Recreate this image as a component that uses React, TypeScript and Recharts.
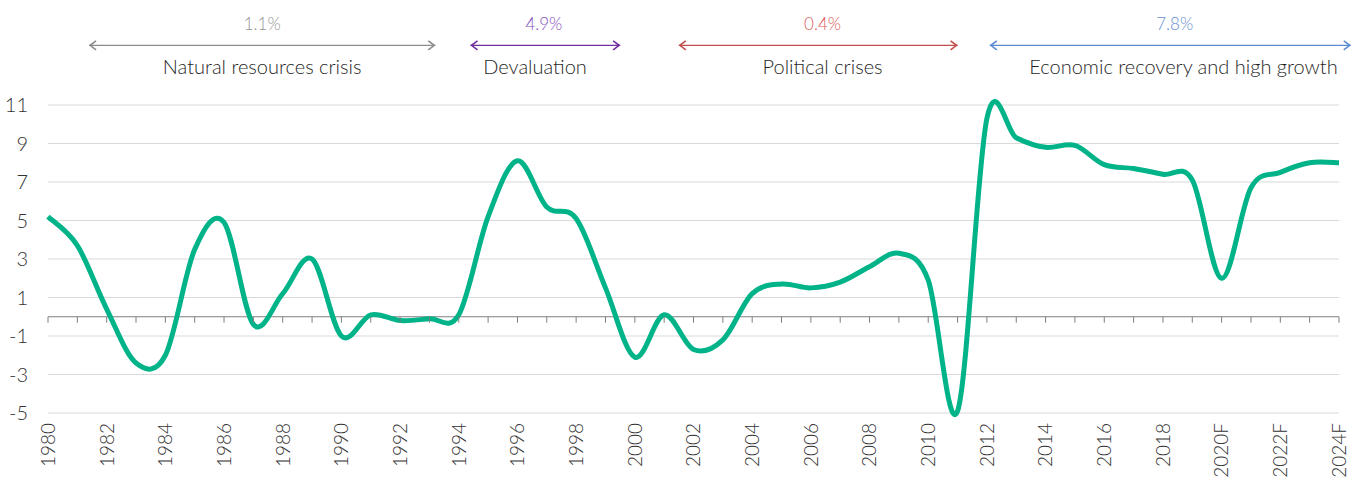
import { LineChart, Line, XAxis, YAxis, CartesianGrid, ReferenceLine, ReferenceDot } from "recharts";

const years = [
  1980, 1981, 1982, 1983, 1984, 1985, 1986, 1987, 1988, 1989, 1990, 1991, 1992, 1993, 1994,
  1995, 1996, 1997, 1998, 1999, 2000, 2001, 2002, 2003, 2004, 2005, 2006, 2007, 2008, 2009,
  2010, 2011, 2012, 2013, 2014, 2015, 2016, 2017, 2018, 2019, 2020, 2021, 2022, 2023, 2024,
];
const growth = [
  5.2, 3.7, 0.4, -2.4, -2.0, 3.5, 4.9, -0.4, 1.2, 3.0, -1.0, 0.1, -0.2, -0.1, 0.1,
  5.2, 8.1, 5.7, 5.1, 1.5, -2.1, 0.1, -1.7, -1.2, 1.2, 1.7, 1.5, 1.8, 2.6, 3.3,
  1.9, -4.9, 10.3, 9.3, 8.8, 8.9, 7.9, 7.7, 7.4, 7.1, 2.0, 6.7, 7.5, 8.0, 8.0,
];
const forecastFrom = 2020;
const xTicks = years.filter((y) => y % 2 === 0);
const yTicks = [-5, -3, -1, 1, 3, 5, 7, 9, 11];

// periods shown above the chart (years)
const periodNames = ["Natural resources crisis", "Devaluation", "Political crises", "Economic recovery and high growth"];
const periodAvg = ["1.1%", "4.9%", "0.4%", "7.8%"];
const periodFrom = [1981.4, 1994.4, 2001.5, 2012.1];
const periodTo = [1993.2, 1999.5, 2011.0, 2024.4];
const nameAt = [1987.3, 1996.6, 2006.4, 2018.7];
const avgAt = [1987.3, 1996.9, 2006.4, 2018.4];
const periodColor = ["#8c8c8c", "#7030a0", "#c0504d", "#5b8bd0"];
const periodTextColor = ["#959595", "#8450bd", "#dc5a5a", "#6890d2"];

const data = years.map((y, i) => ({ year: y, value: growth[i] }));

const FONT = "Lato, 'Liberation Sans', sans-serif";

// Excel-like smoothed line (cardinal spline through the points)
function smoothCurve(context: any) {
  let pts: number[][] = [];
  return {
    areaStart() {},
    areaEnd() {},
    lineStart() {
      pts = [];
    },
    point(x: number, y: number) {
      pts.push([+x, +y]);
    },
    lineEnd() {
      if (!pts.length) return;
      context.moveTo(pts[0][0], pts[0][1]);
      const t = 1 / 6;
      for (let i = 0; i < pts.length - 1; i++) {
        const p0 = pts[i - 1] || pts[i];
        const p1 = pts[i];
        const p2 = pts[i + 1];
        const p3 = pts[i + 2] || p2;
        context.bezierCurveTo(
          p1[0] + (p2[0] - p0[0]) * t,
          p1[1] + (p2[1] - p0[1]) * t,
          p2[0] - (p3[0] - p1[0]) * t,
          p2[1] - (p3[1] - p1[1]) * t,
          p2[0],
          p2[1]
        );
      }
    },
  };
}

function YearTick({ x, y, payload }: any) {
  const v = payload.value;
  const label = v >= forecastFrom ? `${v}F` : `${v}`;
  return (
    <text
      x={x}
      y={y}
      dy="0.36em"
      textAnchor="end"
      transform={`rotate(-90, ${x}, ${y})`}
      fill="#333"
      fontSize={19}
      fontWeight={300}
      fontFamily={FONT}
    >
      {label}
    </text>
  );
}

function zeroTick({ cx, cy }: any) {
  return <line x1={cx} y1={cy} x2={cx} y2={cy + 6} stroke="#7f7f7f" strokeWidth={1} />;
}

function periodArrow(i: number) {
  return ({ x1, y1, x2, y2 }: any) => {
    const c = periodColor[i];
    const at = (yr: number) => x1 + ((yr - periodFrom[i]) / (periodTo[i] - periodFrom[i])) * (x2 - x1);
    return (
      <g>
        <line x1={x1} y1={y1} x2={x2} y2={y2} stroke={c} strokeWidth={1.3} />
        <polyline points={`${x1 + 7},${y1 - 4.5} ${x1 + 1},${y1} ${x1 + 7},${y1 + 4.5}`} fill="none" stroke={c} strokeWidth={1.6} />
        <polyline points={`${x2 - 7},${y2 - 4.5} ${x2 - 1},${y2} ${x2 - 7},${y2 + 4.5}`} fill="none" stroke={c} strokeWidth={1.6} />
        <text x={at(avgAt[i])} y={y1 - 15} textAnchor="middle" fill={periodTextColor[i]} fontSize={17} fontWeight={300} fontFamily={FONT}>
          {periodAvg[i]}
        </text>
        <text x={at(nameAt[i])} y={y1 + 29} textAnchor="middle" fill="#1f1f1f" fontSize={20} fontWeight={300} fontFamily={FONT}>
          {periodNames[i]}
        </text>
      </g>
    );
  };
}

export default function App() {
  return (
    <div style={{ position: "absolute", left: 0, top: 0, width: 1352, height: 481, background: "#fff", fontFamily: FONT }}>
      <LineChart width={1352} height={481} data={data} margin={{ top: 105, right: 13, bottom: 0, left: 0 }}>
        <CartesianGrid vertical={false} stroke="#d9d9d9" strokeWidth={1} />
        <XAxis
          dataKey="year"
          type="number"
          domain={[1980, 2024]}
          ticks={xTicks}
          interval={0}
          axisLine={false}
          tickLine={false}
          tickSize={0}
          tickMargin={10}
          height={68}
          tick={<YearTick />}
        />
        <YAxis
          domain={[-5, 11]}
          ticks={yTicks}
          interval={0}
          axisLine={false}
          tickLine={false}
          tickSize={0}
          tickMargin={20}
          width={48}
          tick={{ fill: "#333", fontSize: 20, fontWeight: 300, fontFamily: FONT }}
        />
        <ReferenceLine y={0} stroke="#7f7f7f" strokeWidth={1.2} />
        {years.map((y) => (
          <ReferenceDot key={y} x={y} y={0} r={0} shape={zeroTick} ifOverflow="visible" />
        ))}
        {periodNames.map((n, i) => (
          <ReferenceLine
            key={n}
            segment={[
              { x: periodFrom[i], y: 14.1 },
              { x: periodTo[i], y: 14.1 },
            ]}
            ifOverflow="visible"
            shape={periodArrow(i)}
          />
        ))}
        <Line
          dataKey="value"
          type={smoothCurve as any}
          stroke="#00b388"
          strokeWidth={5}
          dot={false}
          isAnimationActive={false}
        />
      </LineChart>
    </div>
  );
}
